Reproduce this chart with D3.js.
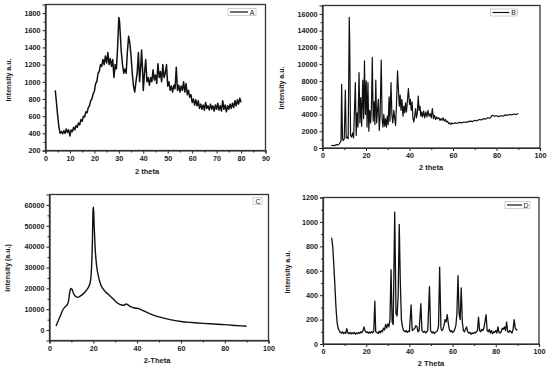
<!DOCTYPE html>
<html>
<head>
<meta charset="utf-8">
<script src="https://cdn.jsdelivr.net/npm/d3@7"></script>
<style>
  body { margin: 0; background: #fff; }
  svg { display: block; }
  text { font-family: "Liberation Sans", Arial, sans-serif; font-weight: bold; fill: #1a1a1a; }
</style>
</head>
<body>
<div id="chart"></div>
<script>
// [2theta, intensity]
const patternA = [[4,900],[4.5,750],[5,600],[5.5,470],[6,400],[6.5,420],[7,395],[7.5,430],[8,400],[8.5,450],
  [9,410],[9.5,440],[10,370],[10.5,440],[11,420],[11.5,470],[12,440],[12.5,490],[13,470],[13.5,520],
  [14,500],[14.5,560],[15,540],[15.5,600],[16,590],[16.5,650],[17,640],[17.5,700],[18,720],[18.5,780],
  [19,800],[19.5,860],[20,890],[20.5,980],[21,1000],[21.5,1100],[22,1120],[22.5,1200],[23,1180],[23.5,1260],
  [24,1200],[24.5,1300],[25,1220],[25.5,1340],[26,1200],[26.5,1270],[27,1180],[27.5,1260],[28,1050],[28.5,1200],
  [29,1150],[29.5,1400],[30,1750],[30.3,1700],[30.7,1500],[31,1350],[31.5,1200],[32,1100],[32.5,1150],[33,1100],
  [33.5,1350],[34,1530],[34.5,1450],[35,1300],[35.5,1100],[36,950],[36.5,880],[37,1000],[37.5,1100],[38,1340],
  [38.5,1000],[39,1200],[39.3,1370],[39.7,1150],[40,900],[40.5,1100],[41,1260],[41.5,1000],[42,1050],[42.5,960],
  [43,1050],[43.5,1000],[44,1140],[44.5,1020],[45,1080],[45.5,980],[46,1210],[46.5,1050],[47,1120],[47.5,1000],
  [48,1200],[48.5,1050],[49,1100],[49.5,1200],[50,950],[50.5,1000],[51,900],[51.5,950],[52,880],[52.5,960],
  [53,920],[53.5,1170],[54,900],[54.5,960],[55,880],[55.5,950],[56,900],[56.5,1000],[57,880],[57.5,980],
  [58,850],[58.5,900],[59,820],[59.5,850],[60,760],[60.5,800],[61,730],[61.5,790],[62,720],[62.5,780],
  [63,690],[63.5,740],[64,680],[64.5,730],[65,670],[65.5,760],[66,690],[66.5,720],[67,670],[67.5,740],
  [68,680],[68.5,720],[69,660],[69.5,730],[70,680],[70.5,750],[71,670],[71.5,720],[72,660],[72.5,780],
  [73,680],[73.5,730],[74,650],[74.5,720],[75,680],[75.5,740],[76,690],[76.5,750],[77,700],[77.5,780],
  [78,720],[78.5,790],[79,740],[79.5,810],[80,760]];

const patternB = [[4,300],[5,320],[5.5,280],[6,350],[6.5,400],[7,380],[7.5,420],[8,600],[8.5,800],[8.8,7600],
  [9.2,1000],[9.6,900],[10,1100],[10.5,6900],[10.9,1200],[11.4,1300],[11.8,1100],[12.3,15600],[12.5,13000],[12.9,1500],
  [13.4,1300],[13.9,1800],[14.3,1200],[14.7,4500],[15.1,7800],[15.5,1500],[15.9,4200],[16.3,2500],[16.8,9000],[17.2,3000],
  [17.6,6000],[18,2600],[18.5,8100],[18.9,3500],[19.3,10400],[19.7,4000],[20.1,8000],[20.5,2500],[20.9,7800],[21.3,2000],
  [21.7,4500],[22.1,3000],[22.5,5000],[22.9,10800],[23.3,3200],[23.7,5500],[24.1,2800],[24.5,8100],[24.9,3000],[25.3,4500],
  [25.7,5800],[26.1,2100],[26.5,4000],[27,10500],[27.4,3500],[27.8,2500],[28.2,4000],[28.6,2600],[29,3500],[29.4,2500],
  [29.8,3800],[30.2,2800],[30.6,6100],[31,3200],[31.5,7800],[31.9,4000],[32.3,3000],[32.8,4500],[33.2,3500],[33.6,2700],
  [34,5000],[34.5,9200],[34.9,7000],[35.3,5000],[35.7,6300],[36.1,4500],[36.5,5800],[37,3800],[37.4,5000],[37.8,4200],
  [38.2,5400],[38.6,4300],[39,5500],[39.5,7100],[40,5200],[40.4,5800],[40.8,4500],[41.2,5500],[41.6,3500],[42,3100],
  [42.4,3800],[42.8,4700],[43.2,3600],[43.6,4200],[44,6200],[44.4,4500],[44.8,5000],[45.2,3800],[45.6,4300],[46,3700],
  [46.5,4400],[47,3600],[47.5,4300],[48,3700],[48.5,4500],[49,3800],[49.5,4100],[50,3600],[50.5,4700],[51,3500],
  [51.5,3900],[52,3400],[52.5,3700],[53,3500],[53.5,3600],[54,3300],[54.5,3500],[55,3300],[55.5,3600],[56,3200],
  [56.5,3400],[57,3100],[57.5,3200],[58,2900],[58.5,3000],[59,2800],[59.5,3000],[60,2900],[61,3000],[62,2950],
  [63,3050],[64,3000],[65,3100],[66,3050],[67,3150],[68,3200],[69,3150],[70,3300],[71,3250],[72,3400],
  [73,3350],[74,3500],[75,3450],[76,3600],[77,3550],[78,3900],[79,3800],[80,3850],[81,3750],[82,3850],
  [83,3800],[84,3950],[85,3900],[86,4000],[87,3950],[88,4050],[89,4000],[90,4100]];

const patternC = [[3,2000],[4,4500],[5,7000],[6,9500],[7,11000],[8,12000],[8.7,14000],[9.3,18500],[9.8,20000],[10.3,19500],
  [11,17500],[12,16000],[13,15700],[14,16300],[15,17000],[16,18000],[17,19300],[18,21000],[18.7,23500],[19.2,30000],
  [19.6,43000],[19.9,58000],[20.1,59000],[20.4,50000],[20.8,40000],[21.5,31000],[22.5,25000],[23.5,21500],[25,19000],[27,17000],
  [29,15000],[31,13000],[33,12000],[34,11900],[35,12500],[36,12000],[37,11200],[39,10600],[41,10200],[43,9200],
  [46,7800],[50,6300],[55,5000],[60,4100],[65,3600],[70,3200],[75,2900],[80,2600],[85,2200],[90,1800]];

const patternD = [[4,870],[4.5,800],[5,650],[5.5,480],[6,300],[6.5,180],[7,130],[7.5,110],[8,95],[8.5,90],
  [9,100],[9.5,85],[10,95],[10.5,88],[11,125],[11.5,90],[12,85],[12.5,95],[13,82],[13.5,92],
  [14,85],[14.5,95],[15,80],[15.5,90],[16,85],[16.5,95],[17,88],[17.5,100],[18,92],[18.5,110],
  [19,140],[19.5,105],[20,95],[20.5,100],[21,88],[21.5,98],[22,90],[22.5,100],[23,92],[23.5,105],
  [24,350],[24.4,100],[25,95],[25.5,85],[26,105],[26.5,90],[27,110],[27.5,100],[28,130],[28.5,115],
  [29,160],[29.5,130],[30,165],[30.5,140],[31,200],[31.5,610],[32,180],[32.5,160],[33.2,1080],[33.8,250],
  [34.3,230],[34.8,400],[35.3,980],[35.8,500],[36.3,200],[36.8,140],[37.3,110],[38,100],[38.5,110],[39,95],
  [39.5,105],[40,100],[40.8,320],[41.3,110],[42,120],[42.5,130],[43,150],[43.5,140],[44,100],[44.5,110],
  [45.3,330],[45.8,110],[46.5,95],[47,105],[47.5,90],[48,100],[48.5,110],[49.3,470],[49.8,110],[50.5,90],
  [51,100],[51.5,85],[52,95],[52.5,100],[53,110],[53.5,150],[54,630],[54.6,130],[55,110],[55.5,120],
  [56,150],[56.5,200],[57,180],[57.5,240],[58,170],[58.5,120],[59,100],[59.5,110],[60,95],[60.5,100],
  [61,120],[61.5,150],[62,250],[62.5,560],[63,250],[63.5,200],[64,460],[64.5,180],[65,110],[65.5,100],
  [66,120],[66.5,140],[67,100],[67.5,90],[68,95],[68.5,80],[69,90],[69.5,85],[70,95],[70.5,90],
  [71,100],[71.5,110],[72,220],[72.5,110],[73,100],[73.5,120],[74,110],[74.5,130],[75.5,240],[76,110],
  [76.5,100],[77,120],[77.5,90],[78,110],[78.5,85],[79,100],[79.5,95],[80,110],[80.5,90],[81,140],
  [81.5,95],[82,90],[82.5,100],[83,130],[83.5,120],[84,140],[84.5,110],[85,180],[85.5,100],[86,95],
  [86.5,110],[87,100],[87.5,90],[88,120],[88.5,200],[89,130],[89.5,115],[90,120]];

const panels = [
  {data: patternA, box: {l: 45.5, r: 265.5, t: 4.5, b: 150.5}, xDomain: [0, 90], yDomain: [200, 1900],
   xMajor: 10, yMajor: 200, xTitle: "2 theta", yTitle: "Intensity a.u.", lineW: 1.5,
   xTitlePos: [147, 174], yTitlePos: [9, 80], legend: {label: "A", x: 228, y: 8.5, w: 28, line: true}, curve: d3.curveLinear},
  {data: patternB, box: {l: 322.5, r: 540, t: 5.5, b: 148}, xDomain: [0, 100], yDomain: [0, 17000],
   xMajor: 20, yMajor: 2000, xTitle: "2 theta", yTitle: "Intensity a.u.", lineW: 1.2,
   xTitlePos: [431, 170], yTitlePos: [282, 88], legend: {label: "B", x: 490.5, y: 9, w: 27, line: true}, curve: d3.curveLinear},
  {data: patternC, box: {l: 49.5, r: 268.5, t: 194.5, b: 340.5}, xDomain: [0, 100], yDomain: [-5000, 65000],
   xMajor: 20, yMajor: 10000, xTitle: "2-Theta", yTitle: "Intensity (a.u.)", lineW: 1.4,
   xTitlePos: [157, 363], yTitlePos: [8, 268], legend: {label: "C", x: 253, y: 197.5, w: 9, line: false}, curve: d3.curveMonotoneX},
  {data: patternD, box: {l: 323, r: 539, t: 197.5, b: 344}, xDomain: [0, 100], yDomain: [0, 1200],
   xMajor: 20, yMajor: 200, xTitle: "2 Theta", yTitle: "Intensity a.u.", lineW: 1.3,
   xTitlePos: [431, 366], yTitlePos: [288, 272], legend: {label: "D", x: 505, y: 201.5, w: 25, line: true}, curve: d3.curveLinear}
];

const svg = d3.select("#chart").append("svg")
  .attr("width", 550)
  .attr("height", 371);

function drawPanel(p) {
  const x = d3.scaleLinear().domain(p.xDomain).range([p.box.l, p.box.r]);
  const y = d3.scaleLinear().domain(p.yDomain).range([p.box.b, p.box.t]);
  const g = svg.append("g");

  // major + minor ticks, Origin style (outward)
  const xMajors = d3.range(p.xDomain[0], p.xDomain[1] + 0.001, p.xMajor);
  const xMinors = d3.range(p.xDomain[0] + p.xMajor / 2, p.xDomain[1], p.xMajor);
  const yStart = Math.ceil(p.yDomain[0] / p.yMajor) * p.yMajor;
  const yMajors = d3.range(yStart, p.yDomain[1] + 0.001, p.yMajor);
  const yMinors = d3.range(yStart - p.yMajor / 2, p.yDomain[1], p.yMajor).filter(v => v > p.yDomain[0]);

  g.append("g")
    .attr("transform", `translate(0,${p.box.b})`)
    .call(d3.axisBottom(x).tickValues(xMajors).tickSize(3).tickPadding(2).tickFormat(d3.format("d")));
  g.append("g")
    .attr("transform", `translate(0,${p.box.b})`)
    .call(d3.axisBottom(x).tickValues(xMinors).tickSize(2).tickFormat(""))
    .select(".domain").remove();
  g.append("g")
    .attr("transform", `translate(${p.box.l},0)`)
    .call(d3.axisLeft(y).tickValues(yMajors).tickSize(3).tickPadding(2).tickFormat(d3.format("d")));
  g.append("g")
    .attr("transform", `translate(${p.box.l},0)`)
    .call(d3.axisLeft(y).tickValues(yMinors).tickSize(2).tickFormat(""))
    .select(".domain").remove();

  g.selectAll(".tick text").style("font-size", "7.2px").attr("fill", "#111");
  g.selectAll(".tick line").attr("stroke", "#222");
  g.selectAll(".domain").attr("stroke", "#222").attr("stroke-width", 1.2);

  // frame
  g.append("rect")
    .attr("x", p.box.l).attr("y", p.box.t)
    .attr("width", p.box.r - p.box.l).attr("height", p.box.b - p.box.t)
    .attr("fill", "none").attr("stroke", "#333").attr("stroke-width", 1.3);

  const line = d3.line()
    .x(d => x(d[0]))
    .y(d => y(d[1]))
    .curve(p.curve);

  g.append("path")
    .datum(p.data)
    .attr("d", line)
    .attr("fill", "none")
    .attr("stroke", "#111")
    .attr("stroke-width", p.lineW)
    .attr("stroke-linejoin", "round");

  g.append("text")
    .attr("x", p.xTitlePos[0]).attr("y", p.xTitlePos[1])
    .attr("text-anchor", "middle")
    .style("font-size", "7.5px")
    .text(p.xTitle);

  g.append("text")
    .attr("transform", `translate(${p.yTitlePos[0]},${p.yTitlePos[1]}) rotate(-90)`)
    .attr("text-anchor", "middle")
    .attr("dy", "0.35em")
    .style("font-size", "7px")
    .text(p.yTitle);

  // legend box
  const lg = p.legend;
  g.append("rect")
    .attr("x", lg.x).attr("y", lg.y).attr("width", lg.w).attr("height", 7)
    .attr("fill", "#fff").attr("stroke", "#bbb").attr("stroke-width", 0.7);
  if (lg.line) {
    g.append("line")
      .attr("x1", lg.x + 2).attr("x2", lg.x + lg.w - 8)
      .attr("y1", lg.y + 3.5).attr("y2", lg.y + 3.5)
      .attr("stroke", "#111").attr("stroke-width", 1.2);
  }
  g.append("text")
    .attr("x", lg.x + lg.w - 1.5).attr("y", lg.y + 6)
    .attr("text-anchor", "end")
    .style("font-size", "7px")
    .style("font-weight", "normal")
    .text(lg.label);
}

panels.forEach(drawPanel);
</script>
</body>
</html>
